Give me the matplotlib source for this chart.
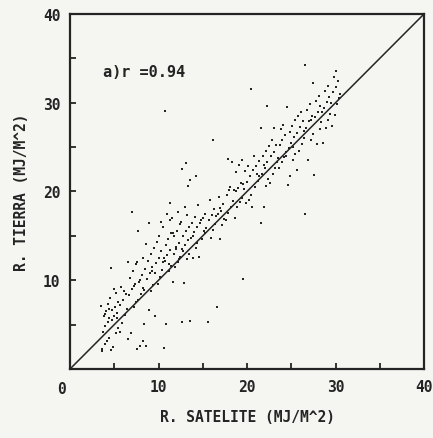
import matplotlib
matplotlib.use('Agg')
import matplotlib.pyplot as plt
import numpy as np

# R. satelite (x) vs R. tierra (y), grouped by x band
x_bands = [4.0, 5.0, 6.0, 7.0, 8.0, 9.0, 10.0, 11.0, 12.0, 13.0, 14.0, 15.0,
           16.0, 17.0, 18.0, 19.0, 20.0, 21.0, 22.0, 23.0, 24.0, 25.0, 26.0,
           27.0, 28.0, 29.0, 30.0]
y_bands = [
    [2.2, 2.8, 3.1, 3.5, 4.2, 4.8, 5.3, 6.0, 6.5, 6.8, 7.1, 7.3, 6.2, 5.7, 2.0],
    [2.1, 2.5, 4.0, 4.6, 5.5, 6.0, 6.3, 6.6, 7.0, 7.5, 8.0, 8.6, 9.0, 5.8, 11.4],
    [4.2, 5.2, 6.1, 6.8, 7.2, 7.8, 8.5, 9.2, 8.8],
    [3.4, 4.1, 7.0, 7.6, 8.3, 9.0, 9.6, 10.2, 11.0, 11.8, 12.0, 9.4, 17.7],
    [2.2, 2.6, 3.2, 5.1, 7.8, 8.4, 9.1, 9.8, 10.6, 11.3, 12.1, 12.5, 10.0, 8.9, 15.5],
    [2.6, 6.6, 8.8, 9.5, 10.1, 10.8, 11.5, 12.2, 13.0, 13.6, 14.1, 11.0, 16.4],
    [6.0, 9.6, 10.4, 11.2, 11.9, 12.5, 13.3, 14.3, 15.0, 12.0, 10.8, 16.6],
    [2.4, 5.1, 11.0, 11.6, 12.2, 12.8, 13.4, 14.0, 14.7, 15.3, 16.0, 16.8, 17.5, 18.7, 12.5, 11.8, 29.1],
    [9.8, 11.5, 12.1, 12.6, 13.0, 13.5, 14.2, 15.0, 15.6, 16.3, 17.0, 17.7, 13.8, 12.4, 15.3],
    [5.3, 9.7, 12.4, 13.0, 13.5, 14.0, 14.5, 15.0, 15.6, 16.0, 16.6, 17.3, 18.2, 20.6, 22.5, 23.2, 13.3],
    [5.4, 12.5, 13.6, 14.2, 14.8, 15.4, 16.0, 16.5, 17.1, 18.5, 21.3, 21.8, 15.0],
    [12.6, 14.6, 15.3, 15.9, 16.4, 17.0, 17.5, 16.8, 15.6],
    [5.3, 14.8, 15.7, 16.3, 16.8, 17.4, 18.0, 19.0, 25.8, 17.2],
    [7.0, 14.7, 16.2, 16.9, 17.5, 18.1, 18.6, 19.4, 17.8],
    [16.8, 17.6, 18.3, 18.9, 19.6, 20.2, 23.3, 23.7, 20.5],
    [17.0, 18.2, 18.8, 19.3, 20.0, 20.4, 21.0, 22.2, 23.0, 23.5, 20.2],
    [10.1, 18.7, 19.0, 19.6, 20.3, 21.1, 21.7, 22.3, 22.9, 31.5, 20.8],
    [18.2, 20.5, 21.2, 21.8, 22.4, 22.9, 23.4, 24.0, 22.0],
    [16.5, 18.2, 20.6, 21.4, 22.0, 22.6, 23.3, 24.0, 24.6, 25.1, 27.1, 29.6, 23.0],
    [21.0, 22.0, 22.7, 23.3, 24.0, 24.5, 25.2, 25.8, 27.2, 23.8],
    [22.6, 23.3, 23.9, 24.5, 25.2, 25.8, 26.4, 27.0, 27.5, 24.0],
    [20.7, 21.8, 23.5, 24.2, 24.9, 25.5, 26.1, 26.7, 27.4, 28.0, 29.5, 25.0],
    [22.4, 24.6, 25.3, 26.0, 26.6, 27.3, 27.9, 28.5, 29.0, 26.8],
    [17.5, 23.5, 25.8, 26.5, 27.2, 27.9, 28.5, 29.2, 29.8, 32.2, 34.2, 28.0],
    [21.9, 25.4, 27.0, 27.8, 28.4, 29.0, 29.6, 30.2, 30.8, 28.9],
    [25.5, 27.1, 28.0, 28.7, 29.4, 30.1, 30.7, 31.3, 31.9, 30.0],
    [27.4, 28.6, 29.8, 30.5, 31.2, 31.8, 32.4, 32.9, 33.6, 31.0],
]
# small offsets within each band so points do not stack on one column
x_offsets = [-0.4, -0.1, 0.2, 0.4, -0.3, 0.0, 0.3, -0.2, 0.1, 0.45, -0.45, 0.25, -0.05, 0.35, -0.35, 0.15, -0.25]

xs, ys = [], []
for xb, yl in zip(x_bands, y_bands):
    for i, yv in enumerate(yl):
        xs.append(xb + x_offsets[i % len(x_offsets)])
        ys.append(yv)
xs = np.array(xs)
ys = np.array(ys)

ink = '#242424'
bg = '#f5f5f2'
plt.rcParams['font.family'] = ['DejaVu Sans Mono']

fig = plt.figure(figsize=(4.33, 4.39), dpi=100, facecolor=bg)
ax = fig.add_axes([0.1617, 0.1572, 0.8176, 0.8087])
ax.set_facecolor(bg)

ax.plot([0, 40], [0, 40], color=ink, linewidth=1.1)
ax.scatter(xs, ys, s=3, marker='s', color=ink, linewidths=0)

ax.set_xlim(0, 40)
ax.set_ylim(0, 40)
ax.set_xticks(np.arange(0, 41, 5))
ax.set_yticks(np.arange(0, 41, 5))
ax.set_xticklabels(['' if v == 0 or v % 10 else str(v) for v in range(0, 41, 5)])
ax.set_yticklabels(['' if v == 0 or v % 10 else str(v) for v in range(0, 41, 5)])
ax.tick_params(direction='in', length=4, width=1.3, colors=ink, labelsize=10.5, pad=7)
for tl in ax.get_xticklabels() + ax.get_yticklabels():
    tl.set_fontweight('bold')
for sp in ax.spines.values():
    sp.set_linewidth(1.6)
    sp.set_color(ink)

ax.text(-1.0, -1.4, '0', ha='center', va='top', fontsize=10.5, fontweight='bold', color=ink)
ax.text(3.7, 33.5, 'a)r =0.94', ha='left', va='center', fontsize=11, fontweight='bold', color=ink)

ax.set_xlabel('R. SATELITE (MJ/M^2)', fontsize=10.5, fontweight='bold', color=ink, labelpad=11)
ax.set_ylabel('R. TIERRA (MJ/M^2)', fontsize=10.5, fontweight='bold', color=ink, labelpad=10)

fig.savefig('out.png', dpi=100, facecolor=fig.get_facecolor())
